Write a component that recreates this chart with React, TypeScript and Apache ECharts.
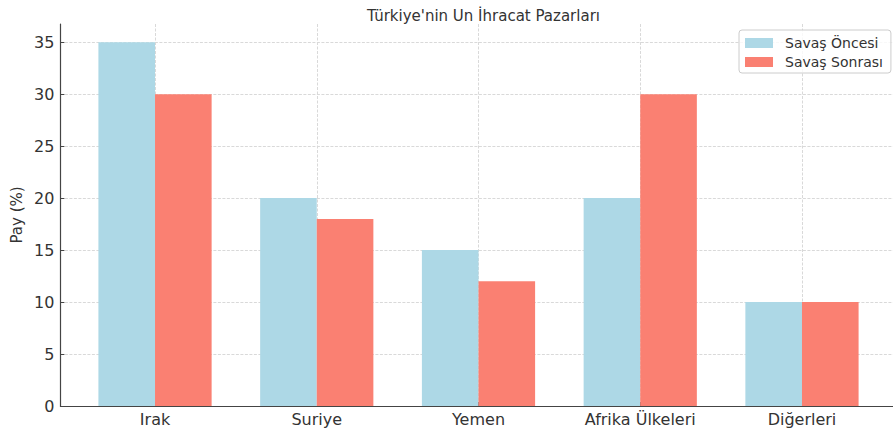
import React, { useEffect, useRef } from "react";
import * as echarts from "echarts";

const categories = ["Irak", "Suriye", "Yemen", "Afrika Ülkeleri", "Diğerleri"];
const beforeWar = [35, 20, 15, 20, 10];
const afterWar = [30, 18, 12, 30, 10];
const seriesNames = ["Savaş Öncesi", "Savaş Sonrası"];
const yTicks = [0, 5, 10, 15, 20, 25, 30, 35];

const FONT = "DejaVu Sans";
const TEXT = "#333";
const GRID_LINE = { show: true, lineStyle: { color: "#d9d9d9", type: [3, 1.5] as any, width: 1 } };

export default function App() {
  const ref = useRef<HTMLDivElement>(null);
  useEffect(() => {
    if (!ref.current) return;
    const chart = echarts.init(ref.current, undefined, { renderer: "svg" });
    const plotLeft = 60.4;
    const plotWidth = 836.2;
    const xMin = -0.585;
    const xMax = 4.585;
    const unit = plotWidth / (xMax - xMin);
    const barW = 0.35 * unit;
    const yMax = 36.75;
    const top = 24;
    const bottom = 26;
    chart.setOption({
      animation: false,
      backgroundColor: "#fff",
      textStyle: { fontFamily: FONT },
      title: {
        text: "Türkiye'nin Un İhracat Pazarları",
        left: plotLeft + plotWidth / 2,
        textAlign: "center",
        top: 3,
        textStyle: { fontFamily: FONT, fontSize: 15, fontWeight: "normal", color: TEXT },
      },
      legend: {
        data: seriesNames,
        orient: "vertical",
        left: 739,
        top: 30,
        padding: [6, 8, 4, 6],
        itemGap: 5,
        itemWidth: 28,
        itemHeight: 10,
        icon: "rect",
        borderColor: "#ccc",
        borderWidth: 1,
        borderRadius: 3,
        backgroundColor: "rgba(255,255,255,0.8)",
        textStyle: { fontFamily: FONT, fontSize: 14, color: TEXT, lineHeight: 14, padding: [0, 0, 0, 7] },
      },
      grid: [
        // spines
        { left: plotLeft, width: plotWidth, top, bottom },
        // y ticks / horizontal grid
        { left: plotLeft, width: plotWidth, top: top + (406 - top) * (1 - 35 / yMax), bottom },
        // x ticks / labels / vertical grid
        { left: plotLeft + (0 - xMin) * unit, width: 4 * unit, top, bottom },
        // bars
        { left: plotLeft + (-0.5 - xMin) * unit, width: 5 * unit, top, bottom },
      ],
      xAxis: [
        {
          gridIndex: 0,
          type: "value",
          min: xMin,
          max: xMax,
          axisLine: { show: true, onZero: false, lineStyle: { color: "#444", width: 1.2 } },
          axisTick: { show: false },
          axisLabel: { show: false },
          splitLine: { show: false },
        },
        { gridIndex: 1, type: "value", show: false, min: 0, max: 1 },
        {
          gridIndex: 2,
          type: "value",
          min: 0,
          max: categories.length - 1,
          interval: 1,
          axisLine: { show: false },
          axisTick: { show: true, inside: true, length: 4, lineStyle: { color: "#444" } },
          axisLabel: {
            show: true,
            margin: 5,
            fontFamily: FONT,
            fontSize: 16,
            color: TEXT,
            formatter: (v: number) => categories[Math.round(v)] ?? "",
          },
          splitLine: GRID_LINE,
        },
        { gridIndex: 3, type: "category", data: categories, show: false, boundaryGap: true },
      ],
      yAxis: [
        {
          gridIndex: 0,
          type: "value",
          min: 0,
          max: yMax,
          name: "Pay (%)",
          nameLocation: "middle",
          nameRotate: 90,
          nameGap: 36,
          nameTextStyle: { fontFamily: FONT, fontSize: 15, color: TEXT },
          axisLine: { show: true, onZero: false, lineStyle: { color: "#444", width: 1.2 } },
          axisTick: { show: false },
          axisLabel: { show: false },
          splitLine: { show: false },
        },
        {
          gridIndex: 1,
          type: "value",
          min: yTicks[0],
          max: yTicks[yTicks.length - 1],
          interval: 5,
          axisLine: { show: false },
          axisTick: { show: true, inside: true, length: 4, lineStyle: { color: "#444" } },
          axisLabel: { margin: 6, fontFamily: FONT, fontSize: 16, color: TEXT },
          splitLine: GRID_LINE,
        },
        { gridIndex: 2, type: "value", show: false, min: 0, max: 1 },
        { gridIndex: 3, type: "value", show: false, min: 0, max: yMax },
      ],
      series: [
        {
          name: seriesNames[0],
          type: "bar",
          xAxisIndex: 3,
          yAxisIndex: 3,
          barWidth: barW,
          barGap: "0%",
          itemStyle: { color: "#ADD8E6" },
          data: beforeWar,
        },
        {
          name: seriesNames[1],
          type: "bar",
          xAxisIndex: 3,
          yAxisIndex: 3,
          barWidth: barW,
          barGap: "0%",
          itemStyle: { color: "#FA8072" },
          data: afterWar,
        },
      ],
    });
    return () => chart.dispose();
  }, []);
  return (
    <div
      ref={ref}
      style={{ position: "fixed", left: 0, top: 0, width: 893, height: 432, background: "#fff" }}
    />
  );
}
